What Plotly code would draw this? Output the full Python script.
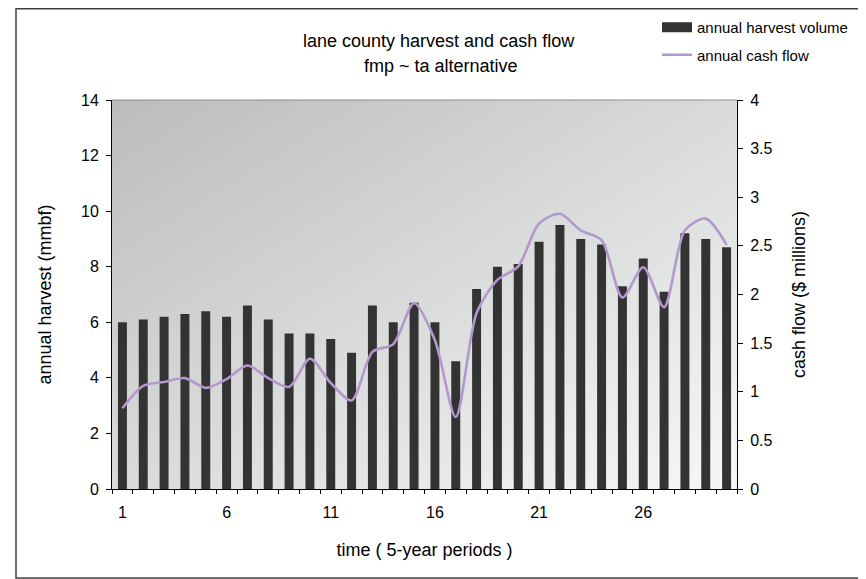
import base64
import plotly.graph_objects as go

# time periods (5-year), harvest (mmbf) and cash flow ($ millions)
periods = list(range(1, 31))
harvest = [6.0, 6.1, 6.2, 6.3, 6.4, 6.2, 6.6, 6.1, 5.6, 5.6,
           5.4, 4.9, 6.6, 6.0, 6.7, 6.0, 4.6, 7.2, 8.0, 8.1,
           8.9, 9.5, 9.0, 8.8, 7.3, 8.3, 7.1, 9.2, 9.0, 8.7]
cash_flow = [0.83, 1.06, 1.10, 1.14, 1.04, 1.13, 1.27, 1.14, 1.05, 1.34,
             1.09, 0.91, 1.41, 1.49, 1.91, 1.53, 0.74, 1.81, 2.15, 2.29,
             2.73, 2.83, 2.66, 2.56, 1.97, 2.28, 1.87, 2.66, 2.78, 2.51]
x_ticks = [1, 6, 11, 16, 21, 26]

FONT = "Liberation Sans, Arial, sans-serif"
BAR_COLOR = "#333333"
LINE_COLOR = "#b497cc"

# page body has an 8px margin, so the figure is laid out 8px up/left
OFF = 8
PL, PR, PT, PB = 112 - OFF, 737 - OFF, 100 - OFF, 489 - OFF   # plot area, px
W, H = 866, 579


def px_x(v):
    return (v - OFF - PL) / (PR - PL)


def px_y(v):
    return (PB - (v - OFF)) / (PB - PT)


# diagonal grey gradient for the plot area (Excel style fill)
svg = ('<svg xmlns="http://www.w3.org/2000/svg" width="100" height="100" '
       'preserveAspectRatio="none">'
       '<defs><linearGradient id="g" x1="0" y1="0" x2="1" y2="1">'
       '<stop offset="0" stop-color="#bcbcbc"/>'
       '<stop offset="1" stop-color="#f6f8f8"/>'
       '</linearGradient></defs>'
       '<rect width="100" height="100" fill="url(#g)"/></svg>')
bg_uri = "data:image/svg+xml;base64," + base64.b64encode(svg.encode()).decode()

fig = go.Figure()
fig.add_trace(go.Bar(x=periods, y=harvest, width=0.43,
                     marker=dict(color=BAR_COLOR, line=dict(width=0)),
                     name="annual harvest volume", showlegend=False))
fig.add_trace(go.Scatter(x=periods, y=cash_flow, yaxis="y2",
                         mode="lines", line=dict(color=LINE_COLOR, width=2.6,
                                                 shape="spline", smoothing=0.8),
                         name="annual cash flow", showlegend=False))
# legend entries (wide swatches like the original)
fig.add_trace(go.Scatter(x=[None], y=[None], mode="lines",
                         line=dict(color=BAR_COLOR, width=10),
                         name="annual harvest volume", legendgroup="a"))
fig.add_trace(go.Scatter(x=[None], y=[None], mode="lines",
                         line=dict(color=LINE_COLOR, width=2.5),
                         name="annual cash flow", legendgroup="b"))

tick_font = dict(size=16)
fig.update_layout(
    width=W, height=H,
    margin=dict(l=PL, r=W - PR, t=PT, b=H - PB, autoexpand=False),
    paper_bgcolor="white",
    plot_bgcolor="rgba(0,0,0,0)",
    font=dict(family=FONT, size=15, color="black"),
    xaxis=dict(range=[0.5, 30.5], tickmode="array", tickvals=x_ticks,
               ticks="", showline=True, linecolor="black", linewidth=1,
               showgrid=False, zeroline=False, ticklabelstandoff=9,
               tickfont=tick_font,
               minor=dict(tick0=0.5, dtick=1, ticks="outside", ticklen=4,
                          tickcolor="black", showgrid=False),
               title=dict(text="time ( 5-year periods )", font=dict(size=18),
                          standoff=23)),
    # overlay axis only for the upper half of the crossing ticks
    xaxis2=dict(overlaying="x", anchor="y", range=[0.5, 30.5],
                showticklabels=False, ticks="", showline=False,
                showgrid=False, zeroline=False,
                minor=dict(tick0=0.5, dtick=1, ticks="inside", ticklen=5,
                           tickcolor="black", showgrid=False)),
    yaxis=dict(range=[0, 14], dtick=2, ticks="outside", ticklen=5,
               tickcolor="black", showline=True, linecolor="black",
               showgrid=False, zeroline=False, tickfont=tick_font,
               ticklabelstandoff=4,
               title=dict(text="annual harvest (mmbf)", font=dict(size=18),
                          standoff=24)),
    yaxis2=dict(range=[0, 4], dtick=0.5, overlaying="y", side="right",
                ticks="outside", ticklen=5, tickcolor="black",
                showline=True, linecolor="black", showgrid=False,
                zeroline=False, tickfont=tick_font, ticklabelstandoff=4,
                title=dict(text="cash flow ($ millions)", font=dict(size=18),
                           standoff=20)),
    yaxis3=dict(range=[0, 14], dtick=2, overlaying="y", side="left",
                anchor="x", ticks="inside", ticklen=4, tickcolor="black",
                showticklabels=False, showline=False, showgrid=False,
                zeroline=False),
    yaxis4=dict(range=[0, 4], dtick=0.5, overlaying="y", side="right",
                anchor="x", ticks="inside", ticklen=4, tickcolor="black",
                showticklabels=False, showline=False, showgrid=False,
                zeroline=False),
    bargap=0.57,
    legend=dict(x=px_x(657), xanchor="left", yref="container",
                y=1 - 3 / H, yanchor="top", bgcolor="rgba(0,0,0,0)",
                font=dict(size=15), tracegroupgap=5),
    annotations=[
        dict(text="lane county harvest and cash flow", xref="paper",
             yref="paper", x=px_x(439), y=px_y(41), xanchor="center",
             yanchor="middle", showarrow=False, font=dict(size=18)),
        dict(text="fmp ~ ta alternative", xref="paper", yref="paper",
             x=px_x(441), y=px_y(66), xanchor="center", yanchor="middle",
             showarrow=False, font=dict(size=18)),
    ],
    images=[dict(source=bg_uri, xref="paper", yref="paper", x=0, y=1,
                 sizex=1, sizey=1, sizing="stretch", layer="below")],
    shapes=[
        # grey border along top of plot area
        dict(type="line", xref="paper", yref="paper", x0=0, x1=1, y0=1, y1=1,
             line=dict(color="#8c8c8c", width=1)),
        # outer chart frame
        dict(type="rect", xref="paper", yref="paper",
             x0=px_x(16), x1=px_x(865), y0=px_y(578), y1=px_y(OFF + 0.8),
             line=dict(color="#404040", width=1.5)),
    ],
)

fig.write_html("out.html")
